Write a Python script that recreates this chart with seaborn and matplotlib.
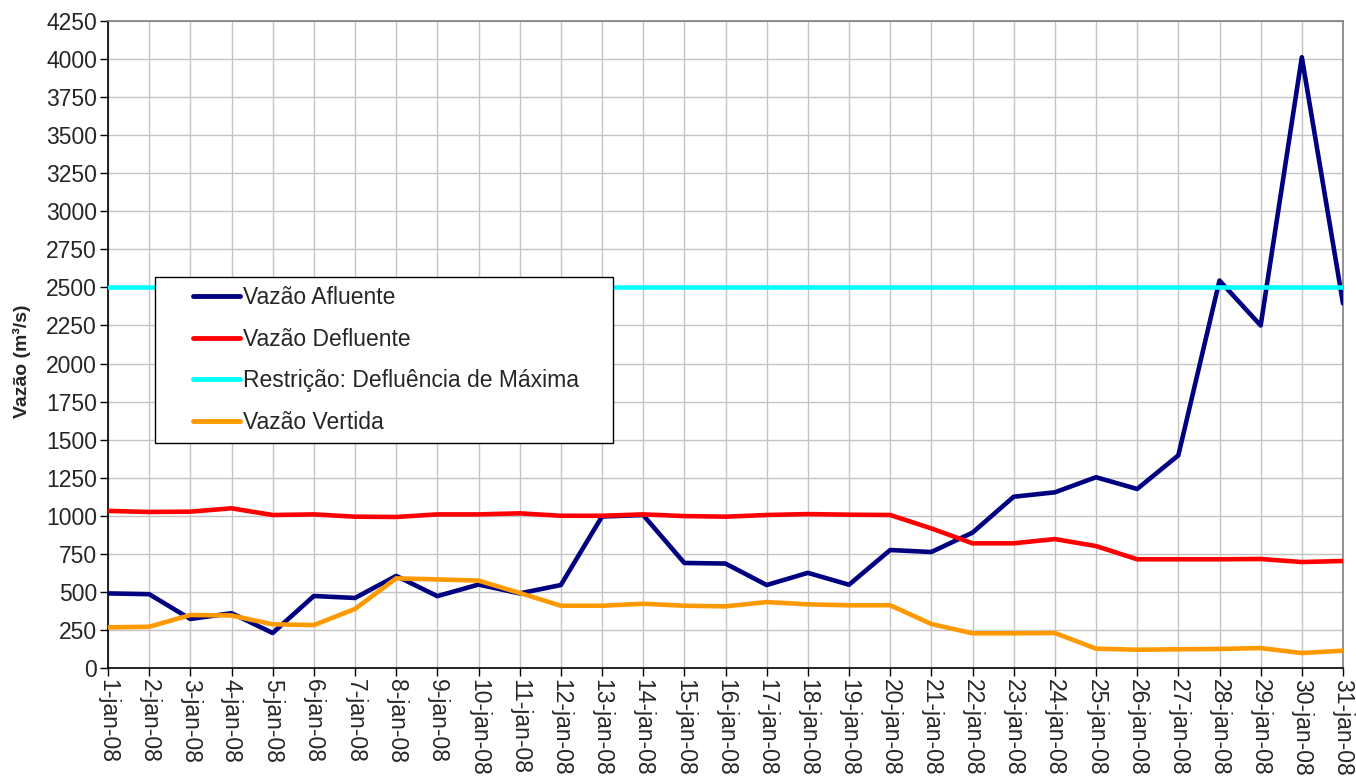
import numpy as np
import pandas as pd
import matplotlib
matplotlib.use("Agg")
import matplotlib.pyplot as plt
import seaborn as sns

# dias de janeiro/2008
dias = [f"{d}-jan-08" for d in range(1, 32)]

afluente = [490, 485, 322, 360, 230, 473, 460, 605, 472, 548, 490, 545, 995, 1005,
            690, 686, 545, 625, 547, 775, 762, 889, 1125, 1154, 1253, 1176, 1397,
            2545, 2250, 4012, 2395]
defluente = [1032, 1025, 1027, 1049, 1005, 1009, 994, 992, 1009, 1009, 1016, 1000,
             1000, 1009, 998, 994, 1005, 1011, 1007, 1005, 917, 819, 819, 847, 801,
             714, 714, 714, 716, 696, 703]
restricao = [2500] * 31
vertida = [267, 271, 348, 345, 287, 282, 388, 589, 582, 574, 493, 409, 409, 422,
           409, 405, 433, 418, 412, 412, 289, 228, 228, 230, 127, 120, 123, 125,
           131, 98, 114]

series = ["Vazão Afluente", "Vazão Defluente",
          "Restrição: Defluência de Máxima", "Vazão Vertida"]
cores = ["#000080", "#FF0000", "#00FFFF", "#FF9900"]

df = pd.DataFrame({"dia": range(len(dias)),
                   series[0]: afluente, series[1]: defluente,
                   series[2]: restricao, series[3]: vertida})
df_long = df.melt(id_vars="dia", var_name="serie", value_name="vazao")

sns.set_style("white")
plt.rcParams["font.family"] = ["Liberation Sans", "DejaVu Sans"]

fs = 16.5
fig = plt.figure(figsize=(13.56, 7.79), dpi=100)
ax = fig.add_axes([108 / 1356, 1 - 668 / 779, (1343 - 108) / 1356, (668 - 21) / 779])

sns.lineplot(data=df_long, x="dia", y="vazao", hue="serie", hue_order=series,
             palette=cores, linewidth=3.3, ax=ax, zorder=3)

ax.set_xlim(0, len(dias) - 1)
ax.set_ylim(0, 4250)
ax.set_yticks(np.arange(0, 4251, 250))
ax.set_xticks(range(len(dias)))
ax.set_xticklabels(dias, rotation=270, fontsize=fs)
ax.tick_params(axis="y", labelsize=fs)
ax.tick_params(axis="both", direction="out", length=6, width=1, color="black",
               left=True, bottom=True, pad=2)
ax.grid(True, color="#c4c4c4", linewidth=1)
ax.set_axisbelow(True)

for s in ["left", "bottom"]:
    ax.spines[s].set_color("black")
    ax.spines[s].set_linewidth(1.2)
for s in ["top", "right"]:
    ax.spines[s].set_color("#808080")
    ax.spines[s].set_linewidth(1.2)

ax.set_xlabel("")
ax.set_ylabel("Vazão (m³/s)", fontsize=14, fontweight="bold")
ax.yaxis.set_label_coords((31 - 108) / 1235, 1 - (361 - 21) / 647)

# legenda (caixa como no Excel)
x0 = (155 - 108) / 1235
x1 = (613 - 108) / 1235
y1 = (668 - 277) / 647
y0 = (668 - 440) / 647
handles, labels = ax.get_legend_handles_labels()
hl = 3.32
leg = ax.legend(handles, labels, loc="upper left", mode="expand",
                bbox_to_anchor=(x0, y0, x1 - x0, y1 - y0),
                fontsize=fs, frameon=True, fancybox=False, framealpha=1,
                edgecolor="black", handlelength=hl, handletextpad=0.13,
                borderpad=0.4, labelspacing=0.81, borderaxespad=0)
leg.get_frame().set_linewidth(1)
total = hl * fs
seg = 47 * 72 / 100
for h in leg.get_lines():
    yy = np.asarray(h.get_ydata(), dtype=float)
    h.set_data([total - seg, total], [yy[0], yy[0]])
    h.set_linewidth(3.5)
    h.set_solid_capstyle("round")

fig.savefig("out.png", dpi=100)
